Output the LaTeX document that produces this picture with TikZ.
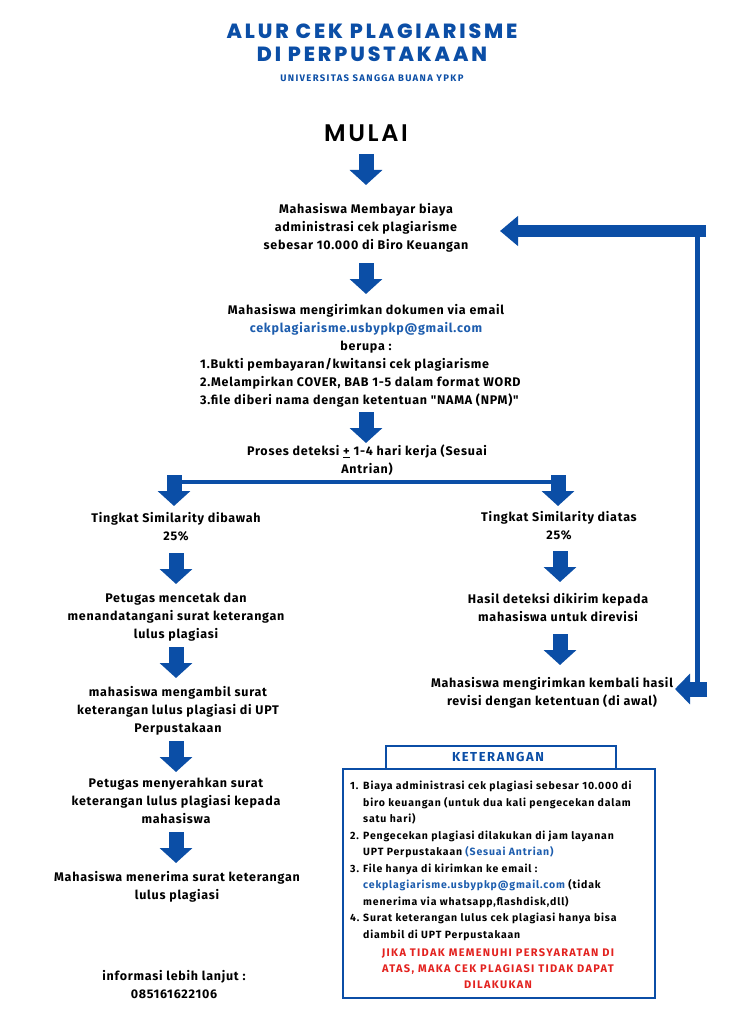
\documentclass[tikz,border=0pt]{standalone}
\usepackage{fontspec}
\usetikzlibrary{arrows.meta}
\setmainfont{Fira Sans}
\newfontfamily\titlefont{Poppins ExtraBold}[LetterSpace=14]
\newfontfamily\startfont{Poppins SemiBold}[LetterSpace=11]
\newfontfamily\bodyfont{Fira Sans}[LetterSpace=6]
\definecolor{usbblue}{HTML}{0B4EA6}
\definecolor{mailblue}{HTML}{1D5DAE}
\definecolor{warnred}{HTML}{E3221F}
\tikzset{
  flowtext/.style={align=center, inner sep=0pt, font=\fontsize{12.5}{18}\selectfont\bodyfont\bfseries},
  kettext/.style={align=left, inner sep=0pt, font=\fontsize{10.5}{16.5}\selectfont\bodyfont\bfseries\addfontfeature{LetterSpace=8}},
  barrow/.style={draw=usbblue, line width=15pt, -{Triangle[width=32pt,length=15pt]}},
}
\newcommand{\mail}[1]{\textcolor{mailblue}{#1}}
\newcommand{\hang}{\hspace*{13pt}}
\begin{document}
\begin{tikzpicture}[x=1pt, y=-1pt]
  \useasboundingbox[fill=white] (0,0) rectangle (731,1024);
  %title
  \node[usbblue, align=center, inner sep=0pt, font=\fontsize{20.5}{23}\selectfont\titlefont] (judul) at (372,43) {ALUR CEK PLAGIARISME\\DI PERPUSTAKAAN};
  \node[usbblue, inner sep=0pt, font=\fontsize{9.5}{10}\selectfont\bodyfont\bfseries\addfontfeature{LetterSpace=14}] (univ) at (372,78) {UNIVERSITAS SANGGA BUANA YPKP};
  \node[inner sep=0pt, font=\fontsize{24}{26}\selectfont\startfont] (mulai) at (366,133) {MULAI};

  %main column
  \node[flowtext] (bayar) at (366,228) {Mahasiswa Membayar biaya\\administrasi cek plagiarisme\\sebesar 10.000 di Biro Keuangan};
  \node[flowtext] (kirim) at (366,329) {Mahasiswa mengirimkan dokumen via email\\\mail{cekplagiarisme.usbypkp@gmail.com}\\berupa :};
  \node[flowtext, align=left, anchor=west] (syarat) at (200,383) {1.Bukti pembayaran/kwitansi cek plagiarisme\\2.Melampirkan COVER, BAB 1-5 dalam format WORD\\3.file diberi nama dengan ketentuan "NAMA (NPM)"};
  \node[flowtext] (deteksi) at (367,460) {Proses deteksi \underline{+} 1-4 hari kerja (Sesuai\\Antrian)};

  %left branch
  \node[flowtext] (bawah) at (176,527) {Tingkat Similarity dibawah\\25\%};
  \node[flowtext] (cetak) at (176,617) {Petugas mencetak dan\\menandatangani surat keterangan\\lulus plagiasi};
  \node[flowtext] (ambil) at (178,711) {mahasiswa mengambil surat\\keterangan lulus plagiasi di UPT\\Perpustakaan};
  \node[flowtext] (serah) at (176,801) {Petugas menyerahkan surat\\keterangan lulus plagiasi kepada\\mahasiswa};
  \node[flowtext] (terima) at (177,887) {Mahasiswa menerima surat keterangan\\lulus plagiasi};
  \node[flowtext] (info) at (174,985) {informasi lebih lanjut :\\085161622106};

  %right branch
  \node[flowtext] (atas) at (559,526) {Tingkat Similarity diatas\\25\%};
  \node[flowtext] (hasil) at (558,608) {Hasil deteksi dikirim kepada\\mahasiswa untuk direvisi};
  \node[flowtext] (revisi) at (552,693) {Mahasiswa mengirimkan kembali hasil\\revisi dengan ketentuan (di awal)};

  %block arrows
  \foreach \x/\y in {366/154, 366/263, 366/412, 174/475, 558/475, 176/553, 176/647, 176/741, 176/832, 560/551, 560/634}{
    \draw[barrow] (\x,\y) -- ++(0,31);
  }
  \draw[usbblue, line width=4pt] (172,482) -- (560,482);

  %loop back
  \draw[usbblue, line width=5pt] (697,231) -- (697,684);
  \draw[usbblue, line width=12pt, -{Triangle[width=29pt,length=18pt]}] (706,231) -- (500,231);
  \draw[usbblue, line width=15pt, -{Triangle[width=30pt,length=15pt]}] (707,689) -- (675,689);

  %keterangan
  \draw[usbblue, line width=2pt] (343,769) rectangle (655,998);
  \draw[usbblue, line width=2pt, fill=white] (386,746) rectangle (616,769);
  \node[usbblue, inner sep=0pt, font=\fontsize{13}{14}\selectfont\bodyfont\bfseries\addfontfeature{LetterSpace=12}] (ket) at (498,757) {KETERANGAN};
  \node[kettext, anchor=north west] (ketlist) at (350,781) {\makebox[13pt][l]{1.}Biaya administrasi cek plagiasi sebesar 10.000 di\\
    \hang biro keuangan (untuk dua kali pengecekan dalam\\
    \hang satu hari)\\
    \makebox[13pt][l]{2.}Pengecekan plagiasi dilakukan di jam layanan\\
    \hang UPT Perpustakaan \mail{(Sesuai Antrian)}\\
    \makebox[13pt][l]{3.}File hanya di kirimkan ke email :\\
    \hang\mail{cekplagiarisme.usbypkp@gmail.com} (tidak\\
    \hang menerima via whatsapp,flashdisk,dll)\\
    \makebox[13pt][l]{4.}Surat keterangan lulus cek plagiasi hanya bisa\\
    \hang diambil di UPT Perpustakaan};
  \node[kettext, align=center, warnred, font=\fontsize{11}{16}\selectfont\bodyfont\bfseries\addfontfeature{LetterSpace=12}] (syaratwajib) at (498,969) {JIKA TIDAK MEMENUHI PERSYARATAN DI\\ATAS, MAKA CEK PLAGIASI TIDAK DAPAT\\DILAKUKAN};
\end{tikzpicture}
\end{document}
